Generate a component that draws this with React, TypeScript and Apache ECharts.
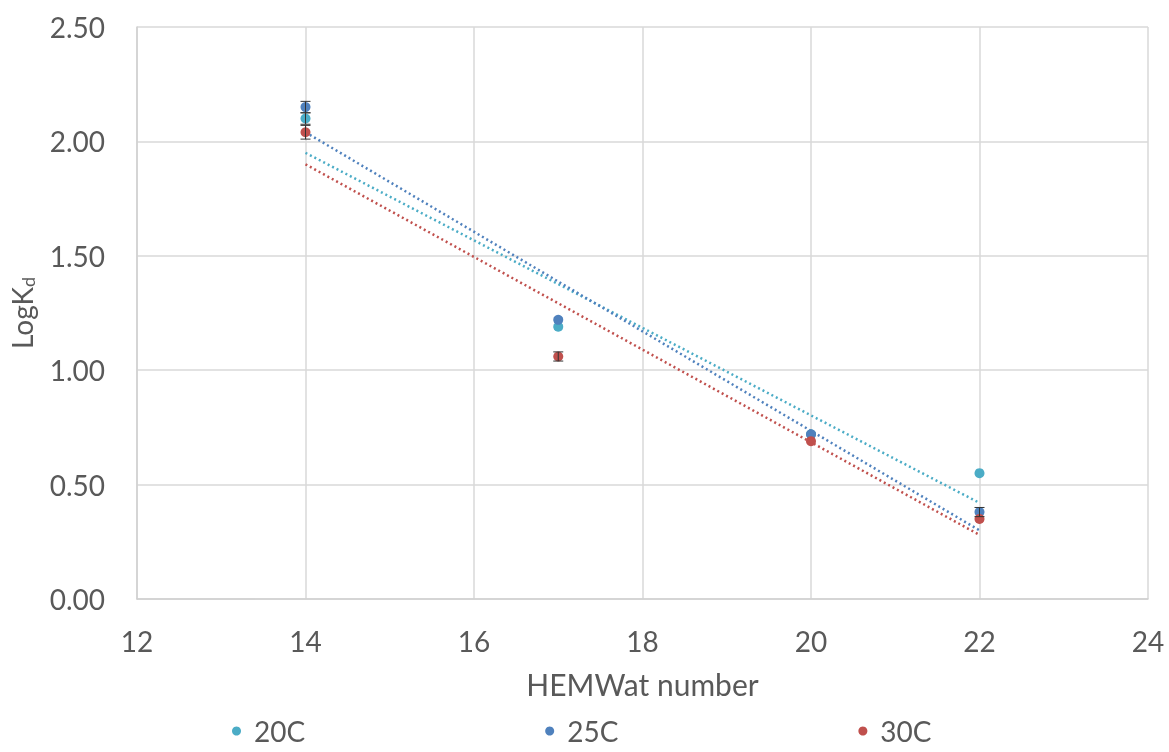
import React, { useEffect, useRef } from "react";
import * as echarts from "echarts";

const xValues = [14, 17, 20, 22];
const series20C = [2.1, 1.19, 0.72, 0.55];
const series25C = [2.15, 1.22, 0.72, 0.38];
const series30C = [2.04, 1.06, 0.69, 0.35];
const err20C = [0.025, 0, 0, 0];
const err25C = [0.025, 0, 0, 0.02];
const err30C = [0.03, 0.02, 0, 0];
const trendX = [14, 22];
const trend20C = [1.95, 0.42];
const trend25C = [2.04, 0.3];
const trend30C = [1.9, 0.28];
const seriesNames = ["20C", "25C", "30C"];
const colors = ["#4BACC6", "#4F81BD", "#C0504D"];

const FONT = "Lato";
const TXT = "#595959";

function pairs(xs: number[], ys: number[]) {
  return xs.map((x, i) => [x, ys[i]]);
}

function errData(ys: number[], es: number[]) {
  return xValues
    .map((x, i) => [x, ys[i], es[i]])
    .filter((d) => d[2] > 0);
}

function errSeries(ys: number[], es: number[]) {
  return {
    type: "custom",
    data: errData(ys, es),
    z: 5,
    silent: true,
    renderItem: (params: any, api: any) => {
      const x = api.value(0);
      const y = api.value(1);
      const e = api.value(2);
      const top = api.coord([x, y + e]);
      const bot = api.coord([x, y - e]);
      const hw = 5;
      const style = { stroke: "#333", lineWidth: 1 };
      return {
        type: "group",
        children: [
          { type: "line", shape: { x1: top[0], y1: top[1], x2: bot[0], y2: bot[1] }, style },
          { type: "line", shape: { x1: top[0] - hw, y1: top[1], x2: top[0] + hw, y2: top[1] }, style },
          { type: "line", shape: { x1: bot[0] - hw, y1: bot[1], x2: bot[0] + hw, y2: bot[1] }, style },
        ],
      };
    },
  };
}

function trendSeries(name: string, ys: number[], color: string) {
  return {
    name,
    type: "line",
    data: pairs(trendX, ys),
    showSymbol: false,
    symbol: "none",
    z: 1,
    silent: true,
    lineStyle: { color, width: 2.5, type: [2, 3], cap: "butt" },
  };
}

function scatterSeries(name: string, ys: number[], color: string) {
  return {
    name,
    type: "scatter",
    data: pairs(xValues, ys),
    symbol: "circle",
    symbolSize: 10,
    z: 3,
    itemStyle: { color, opacity: 1 },
  };
}

export default function App() {
  const ref = useRef<HTMLDivElement>(null);
  useEffect(() => {
    if (!ref.current) return;
    const chart = echarts.init(ref.current, null, { renderer: "svg" });
    chart.setOption({
      animation: false,
      textStyle: { fontFamily: FONT, color: TXT },
      grid: { left: 135, right: 21, top: 27, bottom: 153, containLabel: false },
      legend: {
        data: seriesNames,
        left: 232,
        top: 717,
        padding: 0,
        itemWidth: 9,
        itemHeight: 9,
        itemGap: 240,
        icon: "circle",
        textStyle: {
          fontFamily: FONT,
          fontSize: 28,
          lineHeight: 28,
          color: TXT,
          padding: [0, 0, 0, 8],
        },
      },
      xAxis: {
        type: "value",
        min: 12,
        max: 24,
        interval: 2,
        name: "HEMWat number",
        nameLocation: "middle",
        nameGap: 70,
        nameTextStyle: { fontFamily: FONT, fontSize: 30, color: TXT, verticalAlign: "top" },
        axisLine: { show: true, lineStyle: { color: "#d0d0d0", width: 1.5 } },
        axisTick: { show: false },
        axisLabel: { fontFamily: FONT, fontSize: 28, color: TXT, margin: 28 },
        splitLine: { show: true, lineStyle: { color: "#d9d9d9", width: 1.5 } },
      },
      yAxis: {
        type: "value",
        min: 0,
        max: 2.5,
        interval: 0.5,
        name: "LogK{sub|d}",
        nameLocation: "middle",
        nameRotate: 90,
        nameGap: 100,
        nameTextStyle: {
          fontFamily: FONT,
          fontSize: 28,
          color: TXT,
          rich: {
            sub: { fontFamily: FONT, fontSize: 18, color: TXT, verticalAlign: "bottom", padding: [12, 0, 0, 0] },
          },
        },
        axisLine: { show: true, lineStyle: { color: "#d0d0d0", width: 1.5 } },
        axisTick: { show: false },
        axisLabel: {
          fontFamily: FONT,
          fontSize: 28,
          color: TXT,
          margin: 32,
          formatter: (v: number) => v.toFixed(2),
        },
        splitLine: { show: true, lineStyle: { color: "#d9d9d9", width: 1.5 } },
      },
      series: [
        trendSeries("Linear (20C)", trend20C, colors[0]),
        trendSeries("Linear (25C)", trend25C, colors[1]),
        trendSeries("Linear (30C)", trend30C, colors[2]),
        scatterSeries(seriesNames[0], series20C, colors[0]),
        scatterSeries(seriesNames[1], series25C, colors[1]),
        scatterSeries(seriesNames[2], series30C, colors[2]),
        errSeries(series20C, err20C),
        errSeries(series25C, err25C),
        errSeries(series30C, err30C),
      ],
    });
    return () => chart.dispose();
  }, []);
  return (
    <div
      ref={ref}
      style={{ position: "fixed", left: 0, top: 0, width: 1169, height: 752 }}
    />
  );
}
